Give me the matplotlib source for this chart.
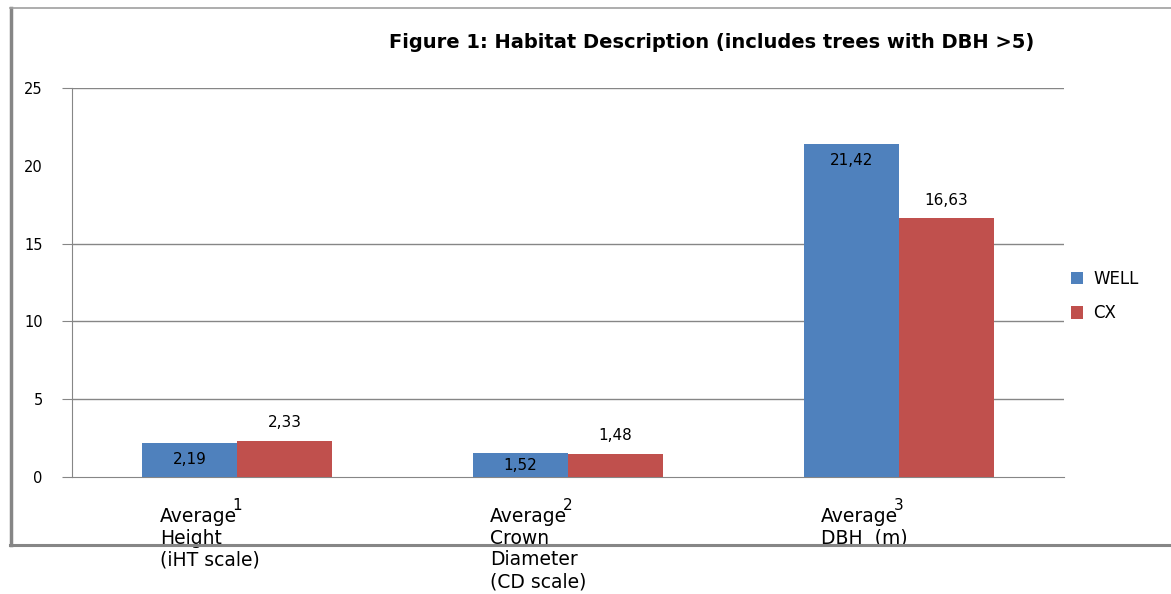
import matplotlib.pyplot as plt
from matplotlib.lines import Line2D

plt.rcParams['font.family'] = ['DejaVu Sans']

# habitat averages per stand type
categories = ['Average\nHeight\n(iHT scale)',
              'Average\nCrown\nDiameter\n(CD scale)',
              'Average\nDBH  (m)']
tick_numbers = ['1', '2', '3']
well = [2.19, 1.52, 21.42]
cx = [2.33, 1.48, 16.63]
yticks = [0, 5, 10, 15, 20, 25]
grid_levels = [5, 10, 15, 25]

blue = '#4F81BD'
red = '#C0504D'
gray = '#868686'

W, H = 1171, 594
fig = plt.figure(figsize=(W / 100, H / 100), dpi=100)
fig.patch.set_facecolor('white')

ax = fig.add_axes([72 / W, 1 - 477 / H, 992 / W, 389 / H])
ax.set_xlim(-0.5, 2.5)
ax.set_ylim(0, 25)

x = range(len(well))
bw = 0.287
b1 = ax.bar([i - bw / 2 for i in x], well, width=bw, color=blue, label='WELL', zorder=3)
b2 = ax.bar([i + bw / 2 for i in x], cx, width=bw, color=red, label='CX', zorder=3)

for lvl in grid_levels:
    ax.axhline(lvl, color=gray, lw=1, zorder=1)

# spines
for s in ['top', 'right']:
    ax.spines[s].set_visible(False)
ax.spines['left'].set_color(gray)
ax.spines['bottom'].set_color(gray)

ax.set_yticks(yticks)
ax.set_yticklabels([str(v) for v in yticks], fontsize=10.5)
ax.tick_params(axis='y', length=7, color=gray, pad=14)
ax.yaxis.get_major_ticks()[4].tick1line.set_visible(False)

ax.set_xticks(list(x))
ax.set_xticklabels(tick_numbers, fontsize=11)
ax.tick_params(axis='x', length=0, pad=15)

px_per_unit = 389 / 25
# WELL labels sit inside the bar top, CX labels above it
for rect, v in zip(b1, well):
    h_px = v * px_per_unit
    off = min(17, h_px / 2)
    ax.annotate(f'{v:.2f}'.replace('.', ','),
                (rect.get_x() + rect.get_width() / 2, v),
                xytext=(0, -off * 0.72), textcoords='offset points',
                ha='center', va='center', fontsize=11, zorder=5)
for rect, v in zip(b2, cx):
    ax.annotate(f'{v:.2f}'.replace('.', ','),
                (rect.get_x() + rect.get_width() / 2, v),
                xytext=(0, 18 * 0.72), textcoords='offset points',
                ha='center', va='center', fontsize=11, zorder=5)

# category names under the tick numbers
for i, name in enumerate(categories):
    ax.annotate(name, (i - 0.235, 0), xycoords=('data', 'axes fraction'),
                xytext=(0, -30 * 0.72), textcoords='offset points',
                ha='left', va='top', fontsize=13.5, linespacing=1.18,
                annotation_clip=False)

ax.legend(handles=[b1, b2], loc='center left',
          bbox_to_anchor=(1064 / W, 1 - 296 / H), bbox_transform=fig.transFigure,
          frameon=False, fontsize=12, handlelength=0.75, handleheight=0.75,
          handletextpad=0.6, labelspacing=1.0, borderaxespad=0)

fig.text(712 / W, 1 - 43 / H,
         'Figure 1: Habitat Description (includes trees with DBH >5)',
         ha='center', va='center', fontsize=14, fontweight='bold')

# outer chart frame
fig.add_artist(Line2D([10.5 / W, 10.5 / W], [1 - 8 / H, 1 - 545 / H],
                      transform=fig.transFigure, color=gray, lw=2.5, zorder=10))
fig.add_artist(Line2D([10 / W, 1], [1 - 8 / H, 1 - 8 / H],
                      transform=fig.transFigure, color='#a0a0a0', lw=1.2, zorder=10))
fig.add_artist(Line2D([10 / W, 1], [1 - 545 / H, 1 - 545 / H],
                      transform=fig.transFigure, color=gray, lw=2.2, zorder=10))

fig.savefig('out.png', dpi=100)
